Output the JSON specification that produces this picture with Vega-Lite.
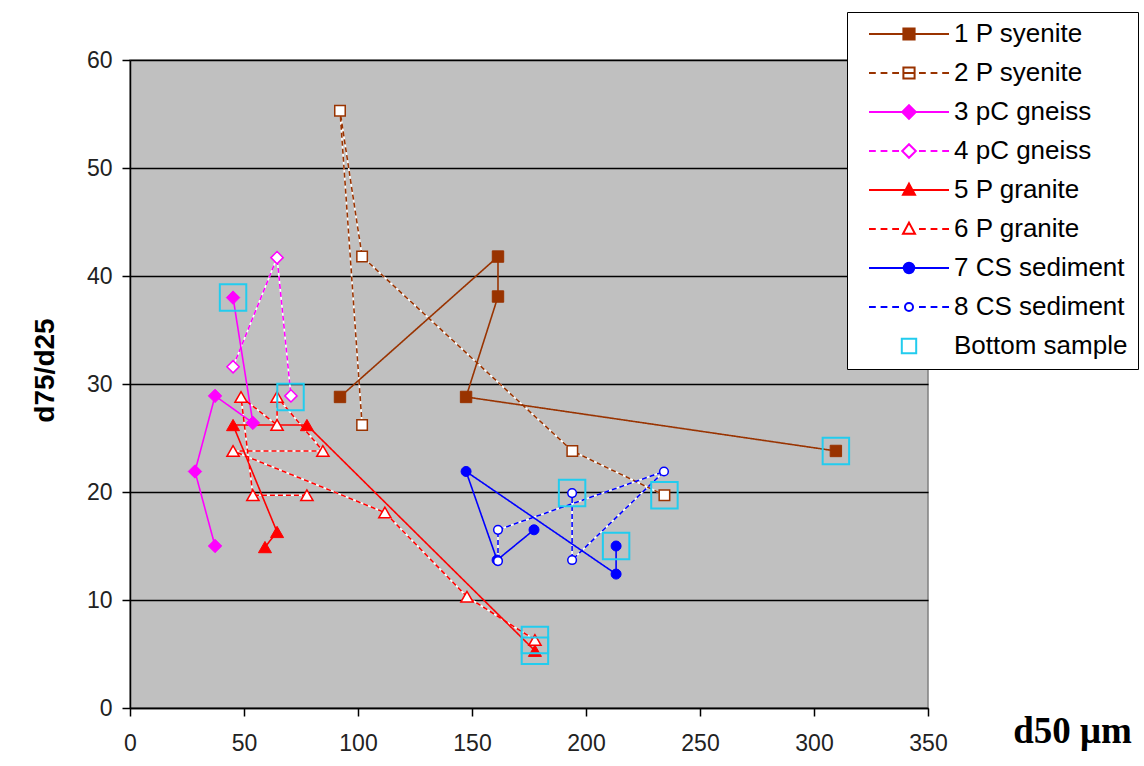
{
  "$schema": "https://vega.github.io/schema/vega-lite/v6.json",
  "width": 798,
  "height": 648,
  "autosize": "none",
  "padding": {"left": 130, "top": 60, "right": 216, "bottom": 58},
  "background": "white",
  "data": {
    "values": [
      {"series": "1 P syenite", "order": 1, "d50": 92.1, "ratio": 28.8},
      {"series": "1 P syenite", "order": 2, "d50": 161.4, "ratio": 41.8},
      {"series": "1 P syenite", "order": 3, "d50": 161.4, "ratio": 38.1},
      {"series": "1 P syenite", "order": 4, "d50": 147.4, "ratio": 28.8},
      {"series": "1 P syenite", "order": 5, "d50": 309.6, "ratio": 23.8},
      {"series": "2 P syenite", "order": 1, "d50": 101.8, "ratio": 26.2},
      {"series": "2 P syenite", "order": 2, "d50": 92.1, "ratio": 55.3},
      {"series": "2 P syenite", "order": 3, "d50": 101.8, "ratio": 41.8},
      {"series": "2 P syenite", "order": 4, "d50": 194.0, "ratio": 23.8},
      {"series": "2 P syenite", "order": 5, "d50": 234.4, "ratio": 19.7},
      {"series": "3 pC gneiss", "order": 1, "d50": 37.3, "ratio": 15.0},
      {"series": "3 pC gneiss", "order": 2, "d50": 28.5, "ratio": 21.9},
      {"series": "3 pC gneiss", "order": 3, "d50": 37.3, "ratio": 28.9},
      {"series": "3 pC gneiss", "order": 4, "d50": 53.9, "ratio": 26.4},
      {"series": "3 pC gneiss", "order": 5, "d50": 45.2, "ratio": 38.0},
      {"series": "4 pC gneiss", "order": 1, "d50": 45.2, "ratio": 31.6},
      {"series": "4 pC gneiss", "order": 2, "d50": 64.5, "ratio": 41.7},
      {"series": "4 pC gneiss", "order": 3, "d50": 70.6, "ratio": 28.9},
      {"series": "5 P granite", "order": 1, "d50": 59.2, "ratio": 14.9},
      {"series": "5 P granite", "order": 2, "d50": 64.5, "ratio": 16.3},
      {"series": "5 P granite", "order": 3, "d50": 45.2, "ratio": 26.2},
      {"series": "5 P granite", "order": 4, "d50": 77.6, "ratio": 26.2},
      {"series": "5 P granite", "order": 5, "d50": 177.6, "ratio": 5.3},
      {"series": "6 P granite", "order": 1, "d50": 77.6, "ratio": 19.7},
      {"series": "6 P granite", "order": 2, "d50": 53.9, "ratio": 19.7},
      {"series": "6 P granite", "order": 3, "d50": 48.7, "ratio": 28.8},
      {"series": "6 P granite", "order": 4, "d50": 64.5, "ratio": 26.2},
      {"series": "6 P granite", "order": 5, "d50": 64.5, "ratio": 28.8},
      {"series": "6 P granite", "order": 6, "d50": 84.6, "ratio": 23.8},
      {"series": "6 P granite", "order": 7, "d50": 45.2, "ratio": 23.8},
      {"series": "6 P granite", "order": 8, "d50": 111.8, "ratio": 18.1},
      {"series": "6 P granite", "order": 9, "d50": 147.8, "ratio": 10.3},
      {"series": "6 P granite", "order": 10, "d50": 177.6, "ratio": 6.3},
      {"series": "7 CS sediment", "order": 1, "d50": 177.2, "ratio": 16.5},
      {"series": "7 CS sediment", "order": 2, "d50": 161.0, "ratio": 13.7},
      {"series": "7 CS sediment", "order": 3, "d50": 147.4, "ratio": 21.9},
      {"series": "7 CS sediment", "order": 4, "d50": 213.2, "ratio": 12.4},
      {"series": "7 CS sediment", "order": 5, "d50": 213.2, "ratio": 15.0},
      {"series": "8 CS sediment", "order": 1, "d50": 161.4, "ratio": 13.6},
      {"series": "8 CS sediment", "order": 2, "d50": 161.4, "ratio": 16.5},
      {"series": "8 CS sediment", "order": 3, "d50": 234.2, "ratio": 21.9},
      {"series": "8 CS sediment", "order": 4, "d50": 193.9, "ratio": 13.7},
      {"series": "8 CS sediment", "order": 5, "d50": 193.9, "ratio": 19.9},
      {"series": "Bottom sample", "order": 1, "d50": 309.6, "ratio": 23.8},
      {"series": "Bottom sample", "order": 2, "d50": 234.4, "ratio": 19.7},
      {"series": "Bottom sample", "order": 3, "d50": 45.2, "ratio": 38.0},
      {"series": "Bottom sample", "order": 4, "d50": 70.4, "ratio": 28.8},
      {"series": "Bottom sample", "order": 5, "d50": 177.6, "ratio": 5.3},
      {"series": "Bottom sample", "order": 6, "d50": 177.6, "ratio": 6.3},
      {"series": "Bottom sample", "order": 7, "d50": 213.2, "ratio": 15.0},
      {"series": "Bottom sample", "order": 8, "d50": 193.9, "ratio": 19.9}
    ]
  },
  "encoding": {
    "x": {
      "field": "d50", "type": "quantitative",
      "scale": {"domain": [0, 350], "nice": false, "zero": false},
      "axis": {
        "values": [0, 50, 100, 150, 200, 250, 300, 350],
        "grid": false,
        "title": "d50 μm",
        "titleFont": "Liberation Serif", "titleFontSize": 37, "titleFontWeight": "bold", "titleColor": "black",
        "titleX": 942, "titleY": 34, "titleAlign": "center", "titleBaseline": "alphabetic", "titleAngle": 0,
        "labelFont": "Liberation Sans", "labelFontSize": 23, "labelColor": "#222", "labelPadding": 16,
        "labelFlush": false, "labelOverlap": false,
        "tickSize": 8, "tickColor": "black", "tickWidth": 1.5,
        "domainColor": "black", "domainWidth": 1.5
      }
    },
    "y": {
      "field": "ratio", "type": "quantitative",
      "scale": {"domain": [0, 60], "nice": false},
      "axis": {
        "values": [0, 10, 20, 30, 40, 50, 60],
        "grid": true, "gridColor": "black", "gridWidth": 1.5, "gridOpacity": 1,
        "title": "d75/d25",
        "titleFont": "Liberation Sans", "titleFontSize": 28, "titleFontWeight": "bold", "titleColor": "black",
        "titleX": -85, "titleY": 310, "titleAlign": "center", "titleBaseline": "middle", "titleAngle": 270,
        "labelFont": "Liberation Sans", "labelFontSize": 23, "labelColor": "#222", "labelPadding": 10,
        "labelFlush": false, "labelOverlap": false,
        "tickSize": 8, "tickColor": "black", "tickWidth": 1.5,
        "domainColor": "black", "domainWidth": 1.5
      }
    }
  },
  "layer": [
    {
      "transform": [{"filter": {"field": "series", "oneOf": ["2 P syenite", "4 pC gneiss", "6 P granite", "8 CS sediment"]}}],
      "mark": {"type": "line", "color": "white", "strokeWidth": 1.6},
      "encoding": {
        "detail": {"field": "series", "type": "nominal"},
        "order": {"field": "order", "type": "quantitative"}
      }
    },
    {
      "transform": [{"filter": {"not": {"field": "series", "equal": "Bottom sample"}}}],
      "mark": {"type": "line", "strokeWidth": 1.6},
      "encoding": {
        "color": {
          "field": "series", "type": "nominal",
          "scale": {
            "domain": ["1 P syenite", "2 P syenite", "3 pC gneiss", "4 pC gneiss", "5 P granite", "6 P granite", "7 CS sediment", "8 CS sediment"],
            "range": ["#993300", "#993300", "#FF00FF", "#FF00FF", "#FF0000", "#FF0000", "#0000FF", "#0000FF"]
          },
          "legend": null
        },
        "strokeDash": {
          "field": "series", "type": "nominal",
          "scale": {
            "domain": ["1 P syenite", "2 P syenite", "3 pC gneiss", "4 pC gneiss", "5 P granite", "6 P granite", "7 CS sediment", "8 CS sediment"],
            "range": [[1, 0], [5, 3], [1, 0], [5, 3], [1, 0], [5, 3], [1, 0], [5, 3]]
          },
          "legend": null
        },
        "order": {"field": "order", "type": "quantitative"}
      }
    },
    {
      "mark": {"type": "point", "opacity": 1},
      "encoding": {
        "shape": {
          "field": "series", "type": "nominal",
          "scale": {
            "domain": ["Bottom sample", "8 CS sediment", "7 CS sediment", "6 P granite", "5 P granite", "4 pC gneiss", "3 pC gneiss", "2 P syenite", "1 P syenite"],
            "range": ["square", "circle", "circle", "triangle-up", "triangle-up", "diamond", "diamond", "square", "square"]
          },
          "legend": null
        },
        "size": {
          "field": "series", "type": "nominal",
          "scale": {
            "type": "ordinal",
            "domain": ["Bottom sample", "8 CS sediment", "7 CS sediment", "6 P granite", "5 P granite", "4 pC gneiss", "3 pC gneiss", "2 P syenite", "1 P syenite"],
            "range": [700, 75, 100, 150, 170, 150, 180, 110, 130]
          },
          "legend": null
        },
        "strokeWidth": {
          "field": "series", "type": "nominal",
          "scale": {
            "type": "ordinal",
            "domain": ["Bottom sample", "8 CS sediment", "7 CS sediment", "6 P granite", "5 P granite", "4 pC gneiss", "3 pC gneiss", "2 P syenite", "1 P syenite"],
            "range": [2, 1.5, 1, 1.5, 1, 1.5, 1, 1.5, 1]
          },
          "legend": null
        },
        "fill": {
          "field": "series", "type": "nominal",
          "scale": {
            "domain": ["Bottom sample", "8 CS sediment", "7 CS sediment", "6 P granite", "5 P granite", "4 pC gneiss", "3 pC gneiss", "2 P syenite", "1 P syenite"],
            "range": ["transparent", "white", "#0000FF", "white", "#FF0000", "white", "#FF00FF", "white", "#993300"]
          },
          "legend": null
        },
        "stroke": {
          "field": "series", "type": "nominal",
          "scale": {
            "domain": ["Bottom sample", "8 CS sediment", "7 CS sediment", "6 P granite", "5 P granite", "4 pC gneiss", "3 pC gneiss", "2 P syenite", "1 P syenite"],
            "range": ["#22CCEE", "#0000FF", "#0000FF", "#FF0000", "#FF0000", "#FF00FF", "#FF00FF", "#993300", "#993300"]
          },
          "legend": null
        }
      }
    },
    {
      "transform": [{"filter": "false"}],
      "mark": {"type": "point", "filled": false, "strokeWidth": 2, "opacity": 1},
      "encoding": {
        "color": {
          "field": "series", "type": "nominal",
          "scale": {
            "domain": ["1 P syenite", "2 P syenite", "3 pC gneiss", "4 pC gneiss", "5 P granite", "6 P granite", "7 CS sediment", "8 CS sediment", "Bottom sample"],
            "range": ["#993300", "#993300", "#FF00FF", "#FF00FF", "#FF0000", "#FF0000", "#0000FF", "#0000FF", "#22CCEE"]
          },
          "legend": {
            "title": null,
            "orient": "none",
            "legendX": 717,
            "legendY": -48,
            "fillColor": "white",
            "strokeColor": "black",
            "padding": 10,
            "symbolSize": 6400,
            "symbolStrokeWidth": 2,
            "symbolOffset": 11,
            "clipHeight": 24,
            "labelFont": "Liberation Sans",
            "labelFontSize": 26,
            "labelColor": "black",
            "labelOffset": 4,
            "rowPadding": 13,
            "labelLimit": 400
          }
        },
        "shape": {
          "field": "series", "type": "nominal",
          "scale": {
            "domain": ["1 P syenite", "2 P syenite", "3 pC gneiss", "4 pC gneiss", "5 P granite", "6 P granite", "7 CS sediment", "8 CS sediment", "Bottom sample"],
            "range": [
              "M-1,0H1M-0.14,-0.14H0.14V0.14H-0.14ZM-0.14,-0.1H0.14M-0.14,-0.05H0.14M-0.14,0.05H0.14M-0.14,0.1H0.14",
              "M-1,0H-0.83M-0.71,0H-0.54M-0.42,0H-0.25M0.25,0H0.42M0.54,0H0.71M0.83,0H1M-0.14,0H0.14M-0.14,-0.14H0.14V0.14H-0.14Z",
              "M-1,0H1M0,-0.17L0.17,0L0,0.17L-0.17,0ZM-0.07,-0.1H0.07M-0.12,-0.05H0.12M-0.12,0.05H0.12M-0.07,0.1H0.07",
              "M-1,0H-0.83M-0.71,0H-0.54M-0.42,0H-0.25M0.25,0H0.42M0.54,0H0.71M0.83,0H1M0,-0.17L0.17,0L0,0.17L-0.17,0Z",
              "M-1,0H1M0,-0.16L0.15,0.12L-0.15,0.12ZM-0.03,-0.1H0.03M-0.06,-0.05H0.06M-0.11,0.05H0.11M-0.14,0.1H0.14",
              "M-1,0H-0.83M-0.71,0H-0.54M-0.42,0H-0.25M0.25,0H0.42M0.54,0H0.71M0.83,0H1M0,-0.16L0.15,0.12L-0.15,0.12Z",
              "M-1,0H1M-0.13,0A0.13,0.13,0,1,0,0.13,0A0.13,0.13,0,1,0,-0.13,0ZM-0.083,-0.1H0.083M-0.12,-0.05H0.12M-0.12,0.05H0.12M-0.083,0.1H0.083",
              "M-1,0H-0.83M-0.71,0H-0.54M-0.42,0H-0.25M0.25,0H0.42M0.54,0H0.71M0.83,0H1M-0.1,0A0.1,0.1,0,1,0,0.1,0A0.1,0.1,0,1,0,-0.1,0Z",
              "M-0.18,-0.18H0.18V0.18H-0.18Z"
            ]
          }
        }
      }
    }
  ],
  "resolve": {"scale": {"color": "independent", "shape": "independent"}},
  "config": {
    "view": {"stroke": "#808080", "strokeWidth": 1.5, "fill": "#C0C0C0"},
    "font": "Liberation Sans"
  }
}
